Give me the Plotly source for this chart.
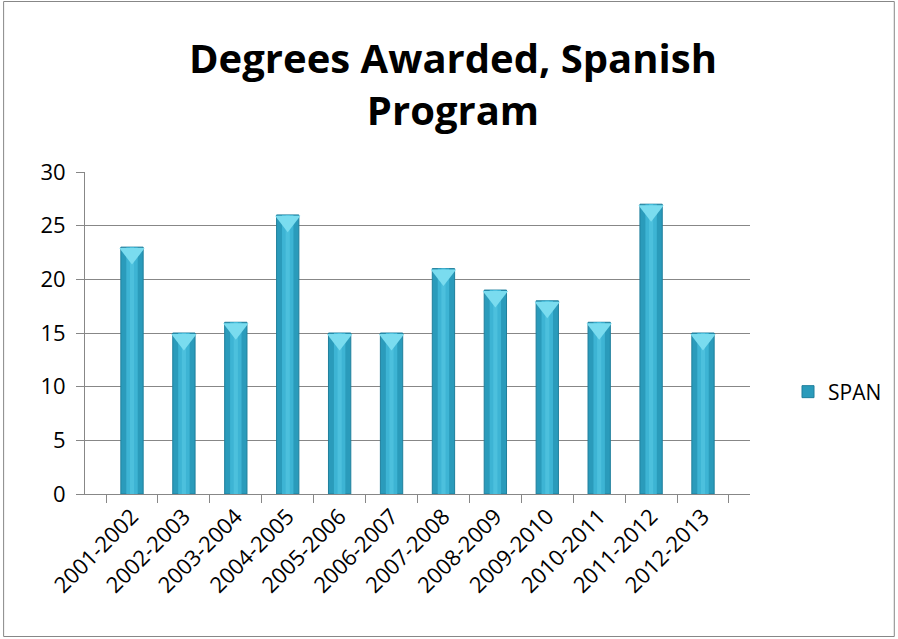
import plotly.graph_objects as go

years = ["2001-2002", "2002-2003", "2003-2004", "2004-2005", "2005-2006", "2006-2007",
         "2007-2008", "2008-2009", "2009-2010", "2010-2011", "2011-2012", "2012-2013"]
span = [23, 15, 16, 26, 15, 15, 21, 19, 18, 16, 27, 15]

W, H = 898, 639
L, R, T, B = 85, 147, 172, 145
pw, ph = W - L - R, H - T - B

fig = go.Figure()
# main cylinder body
fig.add_trace(go.Bar(x=years, y=span, name="SPAN", width=0.43,
                     marker=dict(color="#2A9BBB", line=dict(color="#1F7F9C", width=1))))
# lighter centre band for the cylinder look
fig.add_trace(go.Bar(x=years, y=span, width=0.22, showlegend=False, hoverinfo="skip",
                     marker=dict(color="#3DB4D4", line=dict(width=0))))
fig.add_trace(go.Bar(x=years, y=span, width=0.08, showlegend=False, hoverinfo="skip",
                     marker=dict(color="#4CC0DD", line=dict(width=0))))
# light cap at the top of each bar
fig.add_trace(go.Scatter(x=years, y=[v - 0.6 for v in span], mode="markers", showlegend=False,
                         hoverinfo="skip",
                         marker=dict(symbol="triangle-down", size=22, color="#7ADCEF",
                                     line=dict(width=0))))

fig.update_layout(
    width=W, height=H,
    barmode="overlay",
    paper_bgcolor="white", plot_bgcolor="white",
    margin=dict(l=L, r=R, t=T, b=B),
    font=dict(family="Open Sans", size=22, color="black"),
    xaxis=dict(tickangle=-45, showline=True, linecolor="#878787", linewidth=1,
               ticks="outside", tickson="boundaries", ticklen=8, tickcolor="#878787",
               tickfont=dict(size=22), showgrid=False),
    yaxis=dict(range=[0, 30], dtick=5, showline=True, linecolor="#878787", linewidth=1,
               ticks="outside", ticklen=8, tickcolor="#878787", ticklabelstandoff=6,
               gridcolor="#878787", gridwidth=1, zeroline=False,
               tickfont=dict(size=22)),
    legend=dict(x=(788 - L) / pw, xanchor="left", y=1 - (392 - T) / ph, yanchor="middle",
                font=dict(size=21), itemwidth=30, tracegroupgap=0),
)

# title as an annotation so its position can be set exactly
fig.add_annotation(text="<b>Degrees Awarded, Spanish<br>Program</b>", showarrow=False,
                   xref="paper", yref="paper",
                   x=(454 - L) / pw, xanchor="center",
                   y=1 + (T - 84) / ph, yanchor="middle",
                   font=dict(family="Open Sans", size=40, color="black"))

# outer chart border
fig.add_shape(type="rect", xref="paper", yref="paper",
              x0=(3.5 - L) / pw, x1=(W - 2.5 - L) / pw,
              y0=-(H - 2.5 - T - ph) / ph, y1=1 + (T - 1.5) / ph,
              line=dict(color="#878787", width=1))

fig.write_html("out.html", config={"displayModeBar": False},
               post_script="document.body.style.margin='0';")
